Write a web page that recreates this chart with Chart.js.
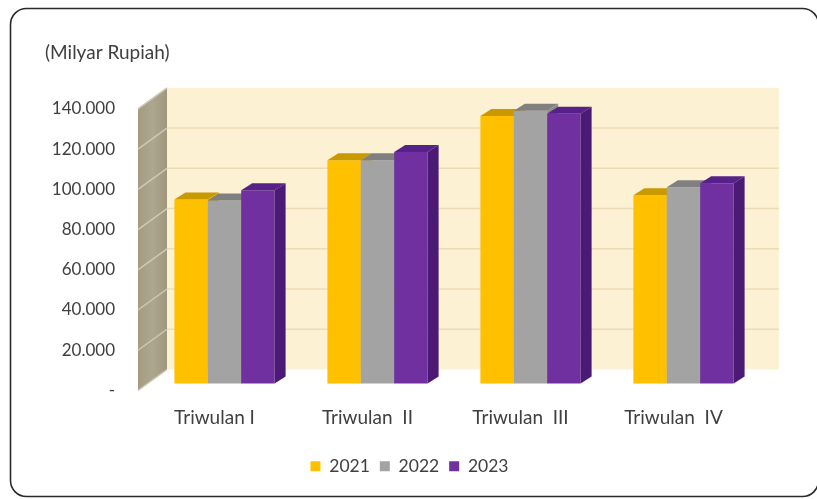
<!DOCTYPE html>
<html>
<head>
<meta charset="utf-8">
<script src="https://cdn.jsdelivr.net/npm/chart.js@4"></script>
<style>
  html, body { margin: 0; padding: 0; background: #fff; }
  #wrap { position: relative; width: 817px; height: 499px; }
</style>
</head>
<body>
<div id="wrap"><canvas id="chart"></canvas></div>
<script>
const quarters = ['Triwulan I', 'Triwulan  II', 'Triwulan  III', 'Triwulan  IV'];
const years = ['2021', '2022', '2023'];
const values2021 = [91500, 111000, 133000, 93500];
const values2022 = [91000, 111000, 135500, 97500];
const values2023 = [96000, 115000, 134000, 99500];
const yMax = 140000;
const yStep = 20000;

const frontColors = ['#ffc000', '#a3a3a3', '#7030a0'];
const topColors = ['#c99a00', '#808080', '#56228a'];
const sideColors = ['#d9a300', '#8a8a8a', '#4a1a74'];

const WALL = { x: 29, y: -21 };      // back wall offset from the front plane
const SHIFT = { x: 10, y: -7 };      // bars stand half way into the depth
const BAR_DEPTH = { x: 11, y: -7 };  // thickness of each column

const FONT = 'Lato, "Open Sans", sans-serif';
const TEXT = '#404040';

function fmt(v) {
  if (v === 0) return '-';
  return String(v).replace(/\B(?=(\d{3})+(?!\d))/g, '.');
}

function poly(ctx, pts, fill) {
  ctx.beginPath();
  ctx.moveTo(pts[0][0], pts[0][1]);
  for (let i = 1; i < pts.length; i++) ctx.lineTo(pts[i][0], pts[i][1]);
  ctx.closePath();
  ctx.fillStyle = fill;
  ctx.fill();
}

const frame = {
  id: 'frame',
  beforeDraw(chart) {
    const ctx = chart.ctx;
    ctx.save();
    ctx.beginPath();
    ctx.roundRect(10.5, 8.5, 808, 488, 16);
    ctx.lineWidth = 1.6;
    ctx.strokeStyle = '#2a2a2a';
    ctx.stroke();
    ctx.restore();
  },
  // legend sits a little right of the plot centre
  afterLayout(chart) {
    chart.legend.left += 12;
    chart.legend.right += 12;
  }
};

const box3d = {
  id: 'box3d',
  beforeDatasetsDraw(chart) {
    const { ctx, chartArea: a, scales: { y } } = chart;
    const dx = WALL.x, dy = WALL.y;
    ctx.save();
    // left side wall
    const g = ctx.createLinearGradient(a.left, 0, a.left + dx, 0);
    g.addColorStop(0, '#a39c83');
    g.addColorStop(0.5, '#aea78f');
    g.addColorStop(1, '#9f977d');
    poly(ctx, [[a.left, a.top], [a.left + dx, a.top + dy], [a.left + dx, a.bottom + dy], [a.left, a.bottom]], g);
    // back wall
    ctx.fillStyle = '#fdf1d3';
    ctx.fillRect(a.left + dx, a.top + dy, a.width, a.height);
    // grid lines on both walls
    ctx.lineWidth = 1.5;
    y.ticks.forEach((t) => {
      const py = y.getPixelForValue(t.value);
      if (t.value > 0 && t.value < yMax) {
        ctx.strokeStyle = '#ecdcb4';
        ctx.beginPath();
        ctx.moveTo(a.left + dx, py + dy);
        ctx.lineTo(a.right + dx, py + dy);
        ctx.stroke();
      }
      ctx.strokeStyle = '#cfc9b4';
      ctx.beginPath();
      ctx.moveTo(a.left, py);
      ctx.lineTo(a.left + dx, py + dy);
      ctx.stroke();
    });
    ctx.restore();
  },
  // columns are painted left to right below, so the library's pass is skipped
  beforeDatasetDraw() {
    return false;
  },
  afterDatasetsDraw(chart) {
    const ctx = chart.ctx;
    ctx.save();
    ctx.translate(SHIFT.x, SHIFT.y);
    chart.data.datasets.forEach((ds, i) => {
      const meta = chart.getDatasetMeta(i);
      meta.data.forEach((bar) => {
        const { x, y, base, width } = bar.getProps(['x', 'y', 'base', 'width'], true);
        const l = x - width / 2;
        const r = x + width / 2;
        const ex = BAR_DEPTH.x, ey = BAR_DEPTH.y;
        bar.draw(ctx);
        poly(ctx, [[l, y], [l + ex, y + ey], [r + ex, y + ey], [r, y]], topColors[i]);
        poly(ctx, [[r, y], [r + ex, y + ey], [r + ex, base + ey], [r, base]], sideColors[i]);
      });
    });
    ctx.restore();
  }
};

new Chart(document.getElementById('chart'), {
  type: 'bar',
  data: {
    labels: quarters,
    datasets: [values2021, values2022, values2023].map((vals, i) => ({
      label: years[i],
      data: vals,
      backgroundColor: frontColors[i],
      borderWidth: 0,
      categoryPercentage: 0.655,
      barPercentage: 1,
      clip: false
    }))
  },
  options: {
    responsive: true,
    maintainAspectRatio: false,
    animation: false,
    layout: { padding: { left: 45, right: 67, top: 0, bottom: 14 } },
    scales: {
      x: {
        grid: { display: false },
        border: { display: false },
        afterFit(scale) { scale.height = 57; },
        ticks: { color: TEXT, font: { family: FONT, size: 19 }, padding: 8 }
      },
      y: {
        min: 0,
        max: yMax,
        grid: { display: false, drawTicks: false },
        border: { display: false },
        afterFit(scale) { scale.width = 93; },
        ticks: {
          stepSize: yStep,
          color: TEXT,
          padding: 23,
          font: { family: FONT, size: 17 },
          callback: (v) => fmt(v)
        }
      }
    },
    plugins: {
      title: {
        display: true,
        text: '(Milyar Rupiah)',
        align: 'start',
        color: TEXT,
        font: { family: FONT, size: 19, weight: 'normal' },
        padding: { top: 41, bottom: 45 }
      },
      legend: {
        position: 'bottom',
        labels: {
          color: TEXT,
          font: { family: FONT, size: 17.5 },
          boxWidth: 10,
          boxHeight: 10,
          padding: 10
        }
      },
      tooltip: { enabled: false }
    }
  },
  plugins: [frame, box3d]
});
</script>
</body>
</html>
